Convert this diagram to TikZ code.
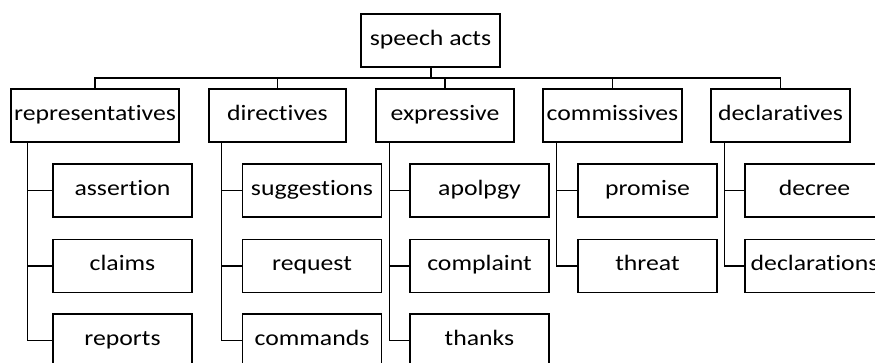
\documentclass[tikz,border=0pt]{standalone}
\usepackage{fontspec}
\setmainfont{Carlito}[Ligatures={NoCommon,NoContextual},FakeStretch=1.17]
\begin{document}
\begin{tikzpicture}[x=1pt,y=-1pt,
  box/.style={draw=black,line width=1.2pt,minimum height=53pt,inner sep=0pt,text height=14pt,text depth=4pt,font=\fontsize{22}{25}\selectfont},
  leaf/.style={box,minimum width=139pt},
  conn/.style={draw=black,line width=1.2pt}]
\useasboundingbox (0,0) rectangle (875,363);
\clip (0,0) rectangle (875,363);
\node[box,minimum width=139pt] (root) at (430.5,40.5) {speech acts};
\node[box,minimum width=168pt] (rep) at (95,115.5) {representatives};
\node[box,minimum width=137pt] (dir) at (277.5,115.5) {directives};
\node[box,minimum width=138pt] (expr) at (445,115.5) {expressive};
\node[box,minimum width=139pt] (comm) at (612.5,115.5) {commissives};
\node[box,minimum width=139pt] (decl) at (780.5,115.5) {declaratives};
\node[leaf] (r1) at (122.5,190.5) {assertion};
\node[leaf] (r2) at (122.5,266) {claims};
\node[leaf] (r3) at (122.5,340.5) {reports};
\node[leaf] (d1) at (312,190.5) {suggestions};
\node[leaf] (d2) at (312,266) {request};
\node[leaf] (d3) at (312,340.5) {commands};
\node[leaf] (e1) at (479.5,190.5) {apolpgy};
\node[leaf] (e2) at (479.5,266) {complaint};
\node[leaf] (e3) at (479.5,340.5) {thanks};
\node[leaf] (c1) at (647.5,190.5) {promise};
\node[leaf] (c2) at (647.5,266) {threat};
\node[leaf] (k1) at (814.5,190.5) {decree};
\node[leaf] (k2) at (814.5,266) {declarations};
\coordinate (bus) at (430.5,78);
\draw[conn,line width=2pt] (root.south) -- (bus);
\draw[conn] (rep.north) |- (bus);
\draw[conn] (decl.north) |- (bus);
\draw[conn] (dir.north) -- (dir.north |- bus);
\draw[conn] (expr.north) -- (expr.north |- bus);
\draw[conn] (comm.north) -- (comm.north |- bus);
\draw[conn] ([xshift=17pt]rep.south west) |- (r1.west);
\draw[conn] ([xshift=17pt]rep.south west) |- (r2.west);
\draw[conn] ([xshift=17pt]rep.south west) |- (r3.west);
\draw[conn] ([xshift=13pt]dir.south west) |- (d1.west);
\draw[conn] ([xshift=13pt]dir.south west) |- (d2.west);
\draw[conn] ([xshift=13pt]dir.south west) |- (d3.west);
\draw[conn] ([xshift=14pt]expr.south west) |- (e1.west);
\draw[conn] ([xshift=14pt]expr.south west) |- (e2.west);
\draw[conn] ([xshift=14pt]expr.south west) |- (e3.west);
\draw[conn] ([xshift=14pt]comm.south west) |- (c1.west);
\draw[conn] ([xshift=14pt]comm.south west) |- (c2.west);
\draw[conn] ([xshift=14pt]decl.south west) |- (k1.west);
\draw[conn] ([xshift=14pt]decl.south west) |- (k2.west);
\end{tikzpicture}
\end{document}
